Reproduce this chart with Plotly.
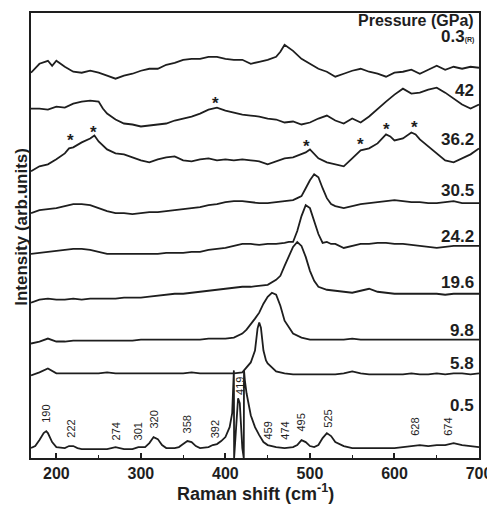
import plotly.graph_objects as go

# ---------------- data ----------------
# Raman shift (cm-1) and stacked intensity (arb. units) for each pressure
x_03 = [170,180,190,195,200,210,220,230,240,250,260,270,280,290,300,310,320,330,340,350,360,370,380,390,400,410,420,430,440,450,460,465,470,475,480,490,500,510,520,530,540,550,560,570,580,590,600,610,620,630,640,650,660,670,680,690,700]
y_03 = [387,396,399,394,399,393,388,387,389,387,384,381,384,386,389,391,391,395,397,400,401,401,403,403,401,400,400,396,398,400,403,408,415,412,409,401,396,391,388,383,386,389,391,388,386,383,387,388,390,386,390,394,390,393,391,393,392]

x_42 = [170,180,190,200,210,220,230,240,250,255,260,270,280,290,300,310,320,330,340,350,360,370,380,390,400,410,420,430,440,450,460,470,480,490,500,510,520,530,540,550,560,570,580,590,600,610,620,630,640,650,660,670,680,690,700]
y_42 = [351,351,350,353,352,356,358,359,358,351,346,340,336,335,333,334,335,336,339,341,343,346,350,352,349,347,345,344,343,341,340,337,338,335,337,341,344,339,336,341,337,343,351,358,365,371,366,367,370,372,367,361,355,351,355]

x_362 = [170,180,190,200,210,215,220,230,240,245,250,260,270,280,290,300,310,320,330,340,350,360,370,380,390,400,410,420,430,440,450,460,470,480,490,495,500,505,510,520,530,540,550,560,570,580,590,595,600,610,620,625,630,640,650,660,670,680,690,700]
y_362 = [288,293,295,300,306,311,312,317,321,324,318,310,306,305,302,299,297,300,302,303,299,298,300,301,299,300,299,300,299,298,295,298,301,302,305,307,310,305,301,297,295,293,301,309,311,316,325,323,319,321,327,325,320,313,306,299,297,301,305,311]

x_305 = [170,180,190,200,210,220,230,240,250,260,270,280,290,300,310,320,330,340,350,360,370,380,390,400,410,420,430,440,450,460,470,480,485,490,495,500,505,510,515,520,525,530,540,550,560,570,580,590,600,610,620,630,640,650,660,670,680,690,700]
y_305 = [246,249,250,251,253,255,255,254,251,248,246,246,245,246,247,247,248,249,250,251,252,254,255,257,258,258,257,256,256,257,258,259,261,263,271,279,285,282,271,261,255,253,251,253,255,256,257,258,259,258,257,257,256,256,257,258,256,256,256]

x_242 = [170,180,190,200,210,220,230,240,250,260,270,280,290,300,310,320,330,340,350,360,370,380,390,400,410,420,430,440,450,460,470,475,480,485,490,495,500,505,510,515,520,525,530,540,550,560,570,580,590,600,610,620,630,640,650,660,670,680,690,700]
y_242 = [205,206,207,208,209,210,210,209,207,205,205,205,205,205,205,205,206,206,206,207,207,209,210,211,213,215,215,214,215,215,216,217,217,228,243,254,251,238,225,216,217,215,215,211,213,215,215,216,216,215,215,214,213,212,211,212,213,213,213,213]

x_196 = [170,180,190,200,210,220,230,240,250,260,270,280,290,300,310,320,330,340,350,360,370,380,390,400,410,420,430,440,450,460,465,470,475,480,485,490,495,500,505,510,520,530,540,550,560,570,580,590,600,610,620,630,640,650,660,670,680,690,700]
y_196 = [156,159,160,159,159,160,159,160,160,160,160,161,161,161,162,163,164,165,165,166,167,168,169,170,171,172,172,173,174,179,183,193,203,212,217,213,202,188,178,172,169,168,167,166,168,170,167,166,165,165,165,165,165,165,164,165,165,165,165]

x_98 = [170,180,190,200,210,220,230,240,250,260,270,280,290,300,310,320,330,340,350,360,370,380,390,400,410,420,425,430,435,440,445,450,455,460,465,470,475,480,490,500,510,520,530,540,550,560,570,580,590,600,610,620,630,640,650,660,670,680,690,700]
y_98 = [115,117,120,117,117,118,118,118,118,118,118,118,118,119,119,119,119,119,119,119,119,120,120,120,121,125,129,134,140,146,155,162,166,164,153,138,131,125,121,119,119,119,119,119,120,119,119,119,119,119,119,119,119,119,119,119,119,119,119,119]

x_58 = [170,180,190,200,210,220,230,240,250,260,270,280,290,300,310,320,330,340,350,360,370,380,390,400,410,420,425,430,435,438,440,442,445,448,450,455,460,470,480,490,500,510,520,530,540,550,560,570,580,590,600,610,620,630,640,650,660,670,680,690,700]
y_58 = [83,86,90,85,85,85,85,85,85,86,85,85,85,85,85,85,85,85,85,86,85,85,85,85,85,86,91,96,108,130,136,131,108,98,95,91,87,85,84,84,84,84,84,84,85,87,85,84,84,84,84,84,85,84,84,85,84,85,85,84,85]

x_05 = [170,175,180,185,188,190,195,200,210,215,220,225,230,240,250,260,270,280,290,297,305,310,315,320,325,330,340,345,350,355,360,365,370,380,385,390,395,400,405,408,410,410.3,413,415,417,420,421.7,422,423,425,430,435,440,445,450,460,470,480,485,490,495,500,505,510,515,520,525,530,540,550,560,570,580,590,600,610,620,630,640,650,660,670,680,690,700]
y_05 = [10,12,18,25,27,25,16,11,10,12,12,10,9,9,9,9,11,9,9,11,11,15,21,19,13,10,10,11,14,17,16,12,10,11,13,14,17,21,31,45,88,0,35,60,55,10,0,88,78,65,43,31,23,16,13,11,10,11,13,18,16,12,11,13,20,25,22,16,12,10,10,10,10,10,10,11,12,13,12,13,13,15,13,12,11]

spectra_x = [x_03, x_42, x_362, x_305, x_242, x_196, x_98, x_58, x_05]
spectra_y = [y_03, y_42, y_362, y_305, y_242, y_196, y_98, y_58, y_05]

# pressure labels and their vertical positions (arb. units)
pressure_labels = ["0.3<span style='font-size:7px'>(R)</span>", "42", "36.2", "30.5", "24.2", "19.6", "9.8", "5.8", "0.5"]
pressure_label_y = [423, 369, 320, 269, 223, 176, 128, 95, 53]

# peak assignments of the 0.5 GPa spectrum: label, x position, y of label base
peak_labels = ["190", "222", "274", "301", "320", "358", "392", "419", "459", "474", "495", "525", "628", "674"]
peak_label_x = [188.5, 218, 271, 297, 316, 355, 388, 418, 451, 470, 490, 522, 624, 663]
peak_label_y = [33, 18, 16, 16, 28, 23, 18, 61, 16, 16, 25, 28, 20, 20]

# asterisks marking new modes
star_x = [216.7, 244.5, 388.5, 496, 560, 591, 624]
star_y = [323, 331, 360, 317, 319, 334, 336]

x_ticks = [200, 300, 400, 500, 600, 700]

# ---------------- figure ----------------
FONT = "Liberation Sans, Arial, sans-serif"
INK = "#1e1e1e"

fig = go.Figure()
for xs, ys in zip(spectra_x, spectra_y):
    fig.add_trace(go.Scatter(x=xs, y=ys, mode="lines",
                             line=dict(color=INK, width=1.8),
                             showlegend=False, hoverinfo="skip"))

ann = []
ann.append(dict(x=697, y=439, xref="x", yref="y", text="<b>Pressure (GPa)</b>",
                showarrow=False, xanchor="right", yanchor="middle",
                font=dict(family=FONT, size=16, color=INK)))
for t, yv in zip(pressure_labels, pressure_label_y):
    ann.append(dict(x=697, y=yv, xref="x", yref="y", text="<b>" + t + "</b>",
                    showarrow=False, xanchor="right", yanchor="middle",
                    font=dict(family=FONT, size=17, color=INK)))
for t, xv, yv in zip(peak_labels, peak_label_x, peak_label_y):
    ann.append(dict(x=xv, y=yv, xref="x", yref="y", text=t, textangle=-90,
                    showarrow=False, xanchor="center", yanchor="bottom",
                    font=dict(family=FONT, size=11, color=INK)))
for xv, yv in zip(star_x, star_y):
    ann.append(dict(x=xv, y=yv, xref="x", yref="y", text="<b>*</b>",
                    showarrow=False, xanchor="center", yanchor="middle", yshift=-4,
                    font=dict(family=FONT, size=17, color=INK)))
# axis titles
ann.append(dict(x=0.5, y=-0.078, xref="paper", yref="paper",
                text="<b>Raman shift (cm<sup>-1</sup>)</b>", showarrow=False,
                xanchor="center", yanchor="middle",
                font=dict(family=FONT, size=18, color=INK)))
ann.append(dict(x=-0.022, y=0.52, xref="paper", yref="paper",
                text="<b>Intensity (arb.units)</b>", showarrow=False, textangle=-90,
                xanchor="center", yanchor="middle",
                font=dict(family=FONT, size=17, color=INK)))

# the page adds an 8 px body margin, so the figure is 8 px smaller and shifted
fig.update_layout(
    width=487, height=497,
    margin=dict(l=23, r=14, t=3, b=47),
    paper_bgcolor="white", plot_bgcolor="white",
    annotations=ann,
    xaxis=dict(range=[170, 700], tickmode="array", tickvals=x_ticks,
               ticktext=["<b>%d</b>" % v for v in x_ticks],
               ticks="inside", ticklen=5, tickwidth=1.5, tickcolor=INK,
               minor=dict(ticks="inside", ticklen=3, tickwidth=1.2, tickcolor=INK,
                          tickvals=[250, 350, 450, 550, 650]),
               showline=True, mirror=True, linewidth=2, linecolor=INK,
               showgrid=False, zeroline=False,
               tickfont=dict(family=FONT, size=16, color=INK)),
    yaxis=dict(range=[0, 447], showticklabels=False, ticks="",
               showline=True, mirror=True, linewidth=2, linecolor=INK,
               showgrid=False, zeroline=False),
)

fig.write_html("out.html")
